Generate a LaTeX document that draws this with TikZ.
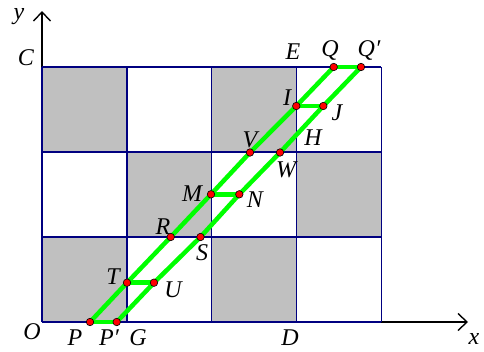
\documentclass[tikz,border=0pt]{standalone}
\usepackage{fontspec}
\setmainfont{Liberation Serif}
\usetikzlibrary{arrows.meta}
\definecolor{navy}{RGB}{0,0,128}
\definecolor{cellgray}{RGB}{192,192,192}
\definecolor{ribbongreen}{RGB}{0,255,0}
\begin{document}
\begin{tikzpicture}[x=1pt,y=-1pt,
  lbl/.style={font=\fontsize{24}{28}\selectfont\itshape, inner sep=0pt},
  dot/.style={circle, fill=red, draw=black, line width=0.6pt, minimum size=7.5pt, inner sep=0pt},
  ribbon/.style={draw=ribbongreen, line width=4.5pt, line join=round},
  gridline/.style={draw=navy, line width=1.4pt},
  axis/.style={draw=black, line width=1.4pt, -{Straight Barb[length=9pt,width=17pt,line width=1.4pt]}}]
\useasboundingbox (0,0) rectangle (484,351);
% shaded cells
\foreach \i/\j in {0/0,2/0,1/1,3/1,0/2,2/2}{
  \fill[cellgray] ({42+84.8*\i},{67+85*\j}) rectangle ({42+84.8*(\i+1)},{67+85*(\j+1)});
}
% axes
\coordinate (O) at (42,322);
\coordinate (xend) at (468,322);
\coordinate (yend) at (42,11);
\draw[axis] (O) -- (xend);
\draw[axis] (O) -- (yend);
% grid
\foreach \i in {0,...,4}{
  \draw[gridline] ({42+84.8*\i},67) -- ({42+84.8*\i},322);
}
\foreach \j in {0,...,3}{
  \draw[gridline] (42,{67+85*\j}) -- (381.2,{67+85*\j});
}
% point positions
\coordinate (P) at (90,322);
\coordinate (Pp) at (116.7,322);
\coordinate (T) at (127,282.7);
\coordinate (U) at (154,282.7);
\coordinate (R) at (170.7,237);
\coordinate (S) at (200.5,237);
\coordinate (M) at (211,194.3);
\coordinate (N) at (239.3,194.3);
\coordinate (V) at (250,152.5);
\coordinate (W) at (280,152.5);
\coordinate (I) at (296.3,106);
\coordinate (J) at (323.3,106);
\coordinate (Q) at (333.7,67);
\coordinate (Qp) at (361,67);
% ribbon
\draw[ribbon] (P) -- (T) -- (R) -- (M) -- (V) -- (I) -- (Q);
\draw[ribbon] (Pp) -- (U) -- (S) -- (N) -- (W) -- (J) -- (Qp);
\draw[ribbon] (P) -- (Pp);
\draw[ribbon] (T) -- (U);
\draw[ribbon] (M) -- (N);
\draw[ribbon] (I) -- (J);
\draw[ribbon] (Q) -- (Qp);
% dots
\foreach \p in {P,Pp,T,U,R,S,M,N,V,W,I,J,Q,Qp}{
  \node[dot] (d\p) at (\p) {};
}
% labels
\node[lbl] (ly) at (19,17) {y};
\node[lbl] (lC) at (26,58) {C};
\node[lbl] (lO) at (32,332) {O};
\node[lbl] (lP) at (75,338) {P};
\node[lbl] (lPp) at (109,338) {P′};
\node[lbl] (lG) at (138,338) {G};
\node[lbl] (lD) at (290,338) {D};
\node[lbl] (lx) at (474,339) {x};
\node[lbl] (lT) at (113,277) {T};
\node[lbl] (lU) at (173,290) {U};
\node[lbl] (lR) at (163,227) {R};
\node[lbl] (lS) at (202,253) {S};
\node[lbl] (lM) at (192,194) {M};
\node[lbl] (lN) at (255,200) {N};
\node[lbl] (lV) at (250,140) {V};
\node[lbl] (lW) at (286,170) {W};
\node[lbl] (lH) at (313,138) {H};
\node[lbl] (lI) at (287,98) {I};
\node[lbl] (lJ) at (337,113) {J};
\node[lbl] (lE) at (293,52) {E};
\node[lbl] (lQ) at (330,50) {Q};
\node[lbl] (lQp) at (369,50) {Q′};
\end{tikzpicture}
\end{document}
